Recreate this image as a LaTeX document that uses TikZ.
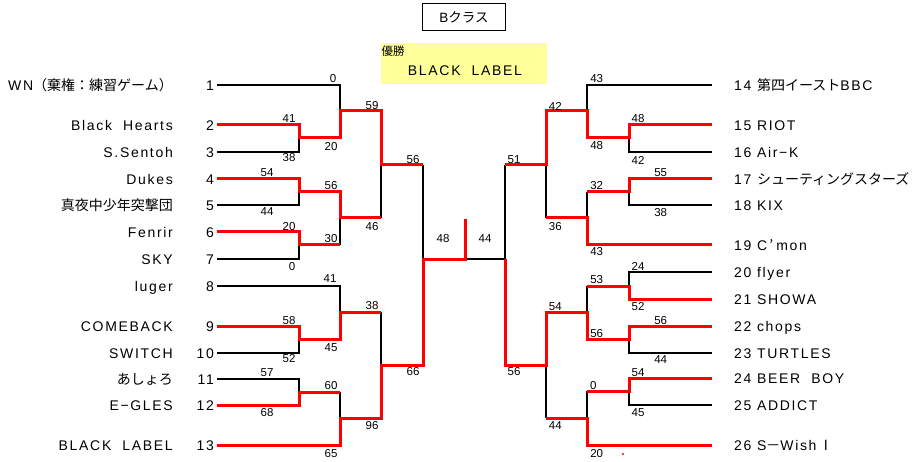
\documentclass[tikz,border=0pt]{standalone}
\usepackage{fontspec}
\setmainfont{Liberation Sans}[LetterSpace=12]
\newfontfamily\jp{Noto Sans CJK JP}
\newfontfamily\numfont{Liberation Sans}
\definecolor{yel}{RGB}{255,255,153}
\begin{document}
\begin{tikzpicture}[x=1pt,y=-1pt,
  lose/.style={draw=black,line width=1.7pt},
  win/.style={draw=red,line width=3pt},
  team/.style={font=\fontsize{14}{16}\selectfont, inner sep=0pt},
  lab/.style={font=\numfont\fontsize{11.5}{13}\selectfont, inner sep=0pt},
]
\fill[white] (0,0) rectangle (912,462);
\useasboundingbox (0,0) rectangle (912,462);

% title and champion
\node[draw, line width=1.3pt, minimum width=83pt, minimum height=27pt, font=\fontsize{13.5}{15}\selectfont, inner sep=0pt] (title) at (464,17) {B{\jp クラス}};
\node[fill=yel, minimum width=166pt, minimum height=41pt, inner sep=0pt] (champ) at (464,63.5) {};
\node[font=\jp\fontsize{11.5}{13}\selectfont, inner sep=0pt] (yusho) at (393,51.5) {優勝};
\node[team] (champname) at (465,71) {BLACK\ \ LABEL};

% left team names
\foreach \n/\y/\t in {1/85/{WN{\jp （棄権：練習ゲーム）}},2/125/{Black\ \ Hearts},3/152/{S.Sentoh},4/179/{Dukes},5/205/{{\jp 真夜中少年突撃団}},6/232/{Fenrir},7/259/{SKY},8/286/{luger},9/326/{COMEBACK},10/353/{SWITCH},11/379/{{\jp あしょろ}},12/405/{E−GLES},13/445/{BLACK\ \ LABEL}}{
  \node[team, anchor=base east] (name\n) at (173,\y+5.3) {\t};
  \node[team, anchor=base east] (num\n) at (214,\y+5.3) {\n};
}
% right team names
\foreach \n/\y/\t in {14/85/{{\jp 第四イースト}BBC},15/125/{RIOT},16/152/{Air−K},17/179/{{\jp シューティングスターズ}},18/205/{KIX},19/245/{C\,{\jp ’}\hspace{3pt}mon},20/272/{flyer},21/299/{SHOWA},22/326/{chops},23/353/{TURTLES},24/378/{BEER\ \ BOY},25/405/{ADDICT},26/445/{S{\jp －}Wish\,{\jp Ⅰ}}}{
  \node[team, anchor=base west] (name\n) at (734,\y+5.3) {\n\ \t};
}

% ---- left bracket: losers (black)
\draw[lose] (217,85) -| (340,111);
\draw[lose] (217,152) -| (299,138);
\draw[lose] (217,205) -| (299,192);
\draw[lose] (217,259) -| (299,245);
\draw[lose] (340,245) -- (340,218);
\draw[lose] (381,218) -- (381,165);
\draw[lose] (217,286) -| (340,312);
\draw[lose] (217,353) -| (299,339);
\draw[lose] (217,379) -| (299,392);
\draw[lose] (340,392) -- (340,418);
\draw[lose] (381,312) -- (381,365);
\draw[lose] (423,165) -- (423,259);
\draw[lose] (465,259) -- (505,259);
% ---- right bracket: losers (black)
\draw[lose] (712,85) -| (587,111);
\draw[lose] (712,152) -| (629,138);
\draw[lose] (505,165) -- (505,259);
\draw[lose] (712,205) -| (629,192);
\draw[lose] (587,192) -- (587,218);
\draw[lose] (546,218) -- (546,165);
\draw[lose] (712,272) -| (629,286);
\draw[lose] (587,286) -- (587,312);
\draw[lose] (712,353) -| (629,339);
\draw[lose] (712,405) -| (629,391);
\draw[lose] (587,391) -- (587,418);
\draw[lose] (546,418) -- (546,365);

% ---- left bracket: winners (red)
\draw[win] (217,125) -| (299,138) -| (340,111) -| (381,165) -- (423,165);
\draw[win] (217,179) -| (299,192) -| (340,218) -- (381,218);
\draw[win] (217,232) -| (299,245) -- (340,245);
\draw[win] (217,326) -| (299,339) -| (340,312) -- (381,312);
\draw[win] (217,405) -| (299,392) -- (340,392);
\draw[win] (217,445) -| (340,418) -| (381,365) -| (423,259) -| (465,219);
% ---- right bracket: winners (red)
\draw[win] (712,125) -| (629,138) -| (587,111) -| (546,165) -- (505,165);
\draw[win] (712,179) -| (629,192) -- (587,192);
\draw[win] (712,245) -| (587,218) -- (546,218);
\draw[win] (712,299) -| (629,286) -- (587,286);
\draw[win] (712,326) -| (629,339) -| (587,312) -| (546,365) -| (505,259);
\draw[win] (712,378) -| (629,391) -- (587,391);
\draw[win] (712,445) -| (587,418) -- (546,418);
\fill[red] (623,454) circle (1.1);

% ---- score labels
\foreach \x/\y/\s [count=\i] in {333/79/0,289/119/41,289/158/38,331/146.7/20,372/106/59,413/160/56,
  267/173/54,267/212/44,331/186/56,372/226.7/46,289/226.7/20,331/239/30,292/266.7/0,330/279/41,
  443/239/48,372/306/38,289/320.7/58,331/347.7/45,289/359/52,267/372.7/57,267/412.3/68,
  331/385.3/60,372/426/96,331/453.3/65,413/372/66,
  596.7/79/43,555.3/106/42,638/119/48,596.7/145.7/48,638/160/42,514/160/51,660.7/172.7/55,
  596.7/186/32,660.7/212.7/38,555.3/226.7/36,485/239/44,596.7/251.7/43,638/266.7/24,596.7/280/53,
  638/306.7/52,555.3/306.7/54,660.7/320.7/56,596.7/333.3/56,514/372/56,660.7/359.3/44,
  638/372.7/54,593.3/386/0,638/412.3/45,555.3/426/44,596.7/453.3/20}{
  \node[lab] (score\i) at (\x,\y) {\s};
}
\end{tikzpicture}
\end{document}
